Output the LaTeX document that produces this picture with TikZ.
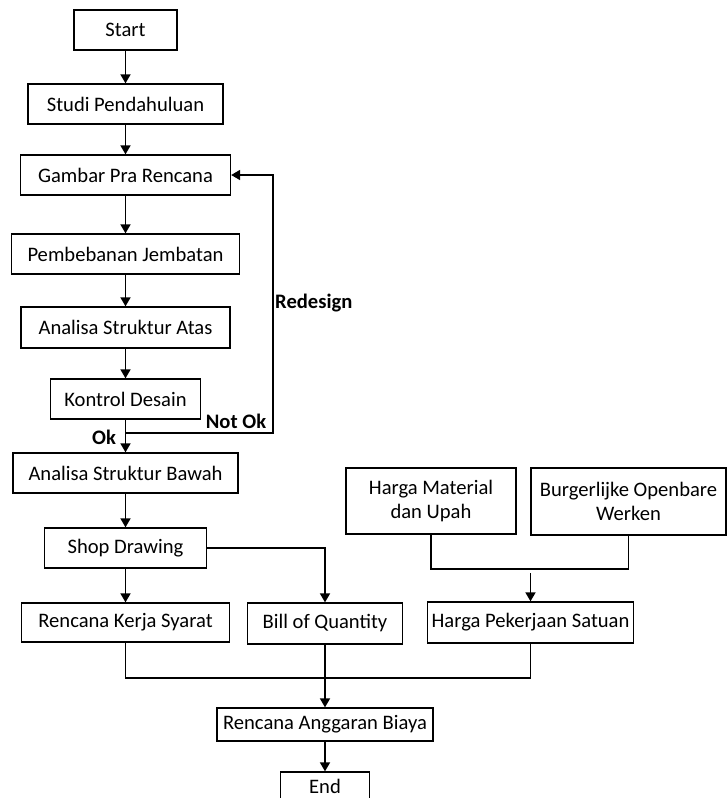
\documentclass[tikz,border=0pt]{standalone}
\usepackage{fontspec}
\setmainfont{Carlito}
\usetikzlibrary{arrows.meta}
\tikzset{
  box/.style={draw, line width=1.3pt, rectangle, inner sep=0pt, align=center,
    font=\fontsize{20.6}{24}\selectfont},
  arr/.style={line width=1.7pt, -{Triangle[length=9pt,width=10pt]}},
  ln/.style={line width=1.7pt},
  lbl/.style={font=\bfseries\fontsize{20.6}{24}\selectfont, inner sep=0pt}
}
\begin{document}
\begin{tikzpicture}[x=1pt,y=-1pt]
\useasboundingbox (0,0) rectangle (727,798);
\clip (0,0) rectangle (727,798);
\node[box, minimum width=103pt, minimum height=40pt] (start) at (125.5,30) {Start};
\node[box, minimum width=195pt, minimum height=40pt] (studi) at (125.5,104) {Studi Pendahuluan};
\node[box, minimum width=210pt, minimum height=40pt] (gambar) at (125.5,175) {Gambar Pra Rencana};
\node[box, minimum width=228pt, minimum height=40pt] (beban) at (125.5,254) {Pembebanan Jembatan};
\node[box, minimum width=209pt, minimum height=41pt] (atas) at (125.5,327.5) {Analisa Struktur Atas};
\node[box, minimum width=150pt, minimum height=40pt] (kontrol) at (125.5,399) {Kontrol Desain};
\node[box, minimum width=225pt, minimum height=40pt] (bawah) at (125.5,473) {Analisa Struktur Bawah};
\node[box, minimum width=162pt, minimum height=40pt] (shop) at (125.5,548) {Shop Drawing};
\node[box, minimum width=208pt, minimum height=39pt] (rks) at (125.5,622.5) {Rencana Kerja Syarat};
\node[box, minimum width=155pt, minimum height=41pt] (boq) at (325,623.5) {Bill of Quantity};
\node[box, minimum width=206pt, minimum height=41pt] (hps) at (530.5,622.5) {Harga Pekerjaan Satuan};
\node[box, minimum width=170pt, minimum height=66pt] (hmu) at (431,501) {Harga Material\\dan Upah};
\node[box, minimum width=195pt, minimum height=67pt] (bow) at (628.5,501.5) {Burgerlijke Openbare\\Werken};
\node[box, minimum width=216pt, minimum height=33pt] (rab) at (325,724.5) {Rencana Anggaran Biaya};
\node[box, minimum width=89pt, minimum height=28pt] (end) at (325,786) {End};

\draw[arr] (start) -- (studi);
\draw[arr] (studi) -- (gambar);
\draw[arr] (gambar) -- (beban);
\draw[arr] (beban) -- (atas);
\draw[arr] (atas) -- (kontrol);
\draw[arr] (kontrol) -- (bawah);
\coordinate (jn) at (125.5,433);
\coordinate (rt) at (273,433);
\draw[arr] (jn) -- (rt) |- (gambar.east);
\node[lbl, anchor=west] (redesign) at (275,303) {Redesign};
\node[lbl] (notok) at (236,421) {Not Ok};
\node[lbl] (ok) at (104,437) {Ok};
\draw[arr] (bawah) -- (shop);
\draw[arr] (shop) -- (rks);
\draw[arr] (shop.east) -| (boq.north);
\coordinate (hj) at (530.5,569);
\draw[ln] (hmu.south) |- (hj) -| (bow.south);
\coordinate (hs) at (530.5,573);
\draw[arr] (hs) -- (hps.north);
\coordinate (bj) at (325,678);
\draw[ln] (rks.south) |- (bj) -| (hps.south);
\draw[arr] (boq.south) -- (rab.north);
\draw[arr] (rab) -- (end);
\end{tikzpicture}
\end{document}
